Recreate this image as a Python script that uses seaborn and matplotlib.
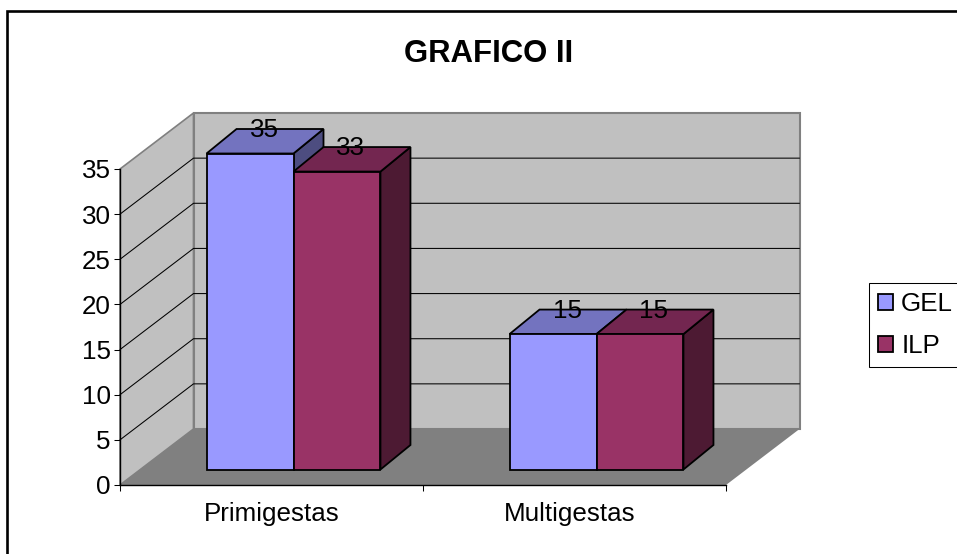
import matplotlib
matplotlib.use('Agg')
import matplotlib.pyplot as plt
import pandas as pd
import seaborn as sns
from matplotlib.patches import Polygon, Rectangle
from matplotlib.transforms import Affine2D

# Data
categories = ['Primigestas', 'Multigestas']
gel_values = [35, 15]
ilp_values = [33, 15]
series_names = ['GEL', 'ILP']
y_ticks = [0, 5, 10, 15, 20, 25, 30, 35]
title_text = 'GRAFICO II'

# Colours (front, top, side)
gel_colors = ('#9999FF', '#7373BF', '#4D4D80')
ilp_colors = ('#993366', '#732650', '#4D1A33')
wall_color = '#C0C0C0'
floor_color = '#808080'

W, H = 957, 554
FONT = 18.7
EDGE = 1.3

sns.set_theme(style='white')
plt.rcParams['font.family'] = ['Liberation Sans', 'DejaVu Sans']
plt.rcParams['text.color'] = 'black'

df = pd.DataFrame({
    'categoria': categories * 2,
    'serie': [series_names[0]] * 2 + [series_names[1]] * 2,
    'valor': gel_values + ilp_values,
})

fig = plt.figure(figsize=(W / 100, H / 100), dpi=100, facecolor='white')

# Front plane of the chart box, given in pixels from the top left
left, right, top, bottom = 120, 726, 169, 485
ax = fig.add_axes([left / W, 1 - bottom / H, (right - left) / W, (bottom - top) / H])
ax.patch.set_alpha(0)

sns.barplot(data=df, x='categoria', y='valor', hue='serie', order=categories,
            hue_order=series_names, palette=[gel_colors[0], ilp_colors[0]],
            width=0.574, gap=0, saturation=1, edgecolor='black', linewidth=EDGE, ax=ax)

ax.set_xlim(-0.5, 1.5)
ax.set_ylim(0, 35)
px_x = (right - left) / 2
px_y = (bottom - top) / 35


def depth(x, y, dx, dy):
    # Move a data point back by a pixel offset (oblique projection)
    return (x + dx / px_x, y + dy / px_y)


# Walls and floor
wall_dx, wall_dy = 73.5, 56
x0, x1 = -0.5, 1.5
y0, y1 = y_ticks[0], y_ticks[-1]
ax.add_patch(Polygon([(x0, y0), (x0, y1), depth(x0, y1, wall_dx, wall_dy), depth(x0, y0, wall_dx, wall_dy)],
                     fc=wall_color, ec=floor_color, lw=1.2, clip_on=False, zorder=0.1))
ax.add_patch(Polygon([depth(x0, y0, wall_dx, wall_dy), depth(x0, y1, wall_dx, wall_dy),
                      depth(x1, y1, wall_dx, wall_dy), depth(x1, y0, wall_dx, wall_dy)],
                     fc=wall_color, ec=floor_color, lw=1.5, clip_on=False, zorder=0.2))
ax.add_patch(Polygon([(x0, y0), (x1, y0), depth(x1, y0, wall_dx, wall_dy), depth(x0, y0, wall_dx, wall_dy)],
                     fc=floor_color, ec='none', clip_on=False, zorder=0.3))

# Gridlines on both walls
for v in y_ticks[1:-1]:
    bx, by = depth(x0, v, wall_dx, wall_dy)
    ex, ey = depth(x1, v, wall_dx, wall_dy)
    ax.plot([x0, bx, ex], [v, by, ey], color='black', lw=0.75, clip_on=False, zorder=0.4)

# Bars: seaborn draws the fronts, depth faces are added on top of them
shift_x, shift_y = 22, 15.5
bar_dx, bar_dy = 30, 24.5
shift = ax.transData + Affine2D().translate(shift_x, shift_y)
z = 1
for cat_idx in range(len(categories)):
    for container, colors in zip(ax.containers, (gel_colors, ilp_colors)):
        bar = container[cat_idx]
        bx, bw, bh = bar.get_x(), bar.get_width(), bar.get_height()
        bar.set_transform(shift)
        bar.set_clip_on(False)
        top_face = [(bx, bh), (bx + bw, bh), depth(bx + bw, bh, bar_dx, bar_dy), depth(bx, bh, bar_dx, bar_dy)]
        side_face = [(bx + bw, 0), (bx + bw, bh), depth(bx + bw, bh, bar_dx, bar_dy), depth(bx + bw, 0, bar_dx, bar_dy)]
        ax.add_patch(Polygon(side_face, fc=colors[2], ec='black', lw=EDGE, transform=shift, clip_on=False, zorder=z))
        ax.add_patch(Polygon(top_face, fc=colors[1], ec='black', lw=EDGE, transform=shift, clip_on=False, zorder=z + 0.1))
        bar.set_zorder(z + 0.2)
        z += 1

# Value labels
for container, values in zip(ax.containers, (gel_values, ilp_values)):
    for bar, value in zip(container, values):
        cx = bar.get_x() + bar.get_width() / 2
        ax.annotate(str(value), xy=(cx, value), xytext=(shift_x + 14, shift_y + 23.5),
                    textcoords='offset pixels', ha='center', va='center',
                    fontsize=FONT, color='black', zorder=50, annotation_clip=False)

# Axes
sns.despine(ax=ax, top=True, right=True)
for side in ('left', 'bottom'):
    ax.spines[side].set_color('black')
    ax.spines[side].set_linewidth(1.0)
    ax.spines[side].set_zorder(40)
ax.set_xlabel('')
ax.set_ylabel('')
ax.set_yticks(y_ticks)
ax.set_xticks([0, 0.985])
ax.set_xticks([-0.5, 0.5, 1.5], minor=True)
ax.set_xticklabels(categories)
ax.tick_params(axis='y', left=True, length=4.3, width=0.75, color='black', labelsize=FONT, pad=2.5, labelcolor='black')
ax.tick_params(axis='x', which='major', bottom=False, length=0, labelsize=FONT, pad=12.5, labelcolor='black')
ax.tick_params(axis='x', which='minor', bottom=True, length=4.3, width=0.75, color='black')

# Legend runs off the right edge as in the source
handles, labels = ax.get_legend_handles_labels()
ax.legend(handles, labels, loc='upper left', bbox_to_anchor=(869 / W, 1 - 283 / H),
          bbox_transform=fig.transFigure, fontsize=FONT, frameon=True, fancybox=False,
          edgecolor='black', framealpha=1, borderpad=0.35, labelspacing=0.68,
          handlelength=0.58, handleheight=0.58, handletextpad=0.31, borderaxespad=0)
ax.get_legend().get_frame().set_linewidth(0.75)

fig.text(489 / W, 1 - 54 / H, title_text, ha='center', va='center', fontsize=22.4,
         fontweight='bold', color='black')

# Outer chart frame, cropped at right and bottom
fig.add_artist(Rectangle((7.5 / W, -0.1), 1.1, 1.1 - 11 / H, transform=fig.transFigure,
                         fill=False, edgecolor='black', linewidth=1.9))

fig.savefig('out.png', dpi=100)
